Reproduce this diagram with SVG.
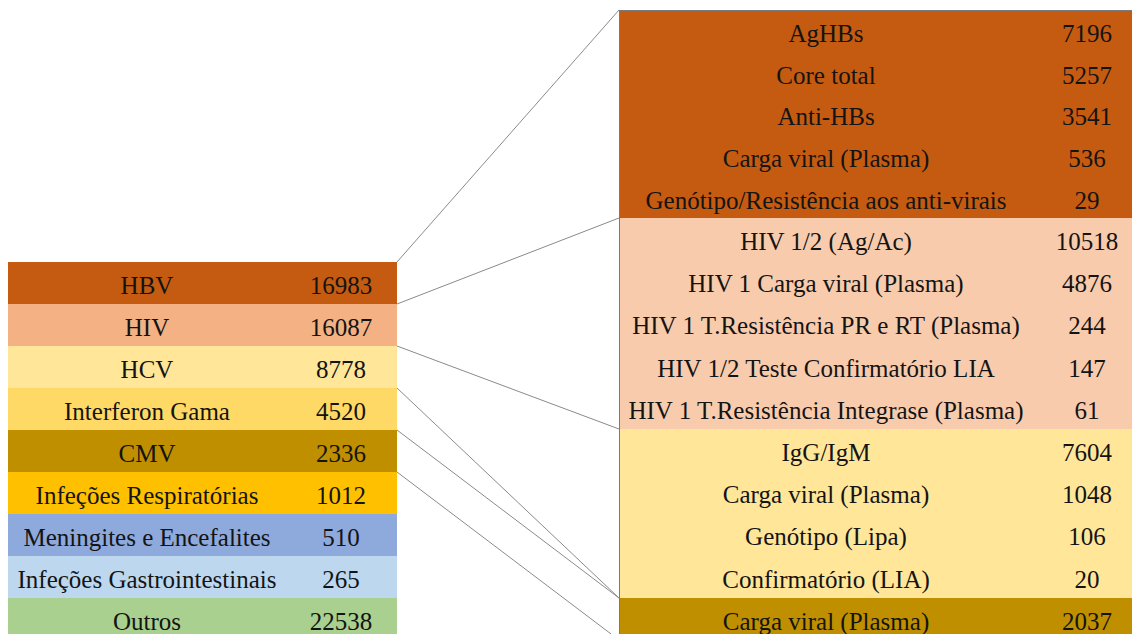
<svg xmlns="http://www.w3.org/2000/svg" width="1132" height="634" viewBox="0 0 1132 634">
<style>
text{font-family:"Liberation Serif","Times New Roman",serif;font-size:25px;fill:#141414;text-anchor:middle}
.con{stroke:#8a8a8a;stroke-width:1;fill:none}
</style>
<rect width="1132" height="634" fill="#ffffff"/>
<g id="left-table">
<g id="n-hbv"><rect x="8" y="262" width="389" height="42" fill="#C55A11"/><text x="147" y="293.5">HBV</text><text x="341" y="293.5">16983</text></g>
<g id="n-hiv"><rect x="8" y="304" width="389" height="42" fill="#F4B183"/><text x="147" y="335.5">HIV</text><text x="341" y="335.5">16087</text></g>
<g id="n-hcv"><rect x="8" y="346" width="389" height="42" fill="#FFE699"/><text x="147" y="377.5">HCV</text><text x="341" y="377.5">8778</text></g>
<g id="n-ifn"><rect x="8" y="388" width="389" height="42" fill="#FFD966"/><text x="147" y="419.5">Interferon Gama</text><text x="341" y="419.5">4520</text></g>
<g id="n-cmv"><rect x="8" y="430" width="389" height="42" fill="#BF8F00"/><text x="147" y="461.5">CMV</text><text x="341" y="461.5">2336</text></g>
<g id="n-resp"><rect x="8" y="472" width="389" height="42" fill="#FFC000"/><text x="147" y="503.5">Infeções Respiratórias</text><text x="341" y="503.5">1012</text></g>
<g id="n-men"><rect x="8" y="514" width="389" height="42" fill="#8EA9DB"/><text x="147" y="545.5">Meningites e Encefalites</text><text x="341" y="545.5">510</text></g>
<g id="n-gastro"><rect x="8" y="556" width="389" height="42" fill="#BDD7EE"/><text x="147" y="587.5">Infeções Gastrointestinais</text><text x="341" y="587.5">265</text></g>
<g id="n-outros"><rect x="8" y="598" width="389" height="42" fill="#A9D08E"/><text x="147" y="629.5">Outros</text><text x="341" y="629.5">22538</text></g>
</g>
<g id="right-table">
<g id="r-hbv">
<rect x="619" y="10" width="513" height="208" fill="#C55A11"/>
<text x="826" y="41.5">AgHBs</text><text x="1087" y="41.5">7196</text>
<text x="826" y="83.5">Core total</text><text x="1087" y="83.5">5257</text>
<text x="826" y="125">Anti-HBs</text><text x="1087" y="125">3541</text>
<text x="826" y="167">Carga viral (Plasma)</text><text x="1087" y="167">536</text>
<text x="826" y="208.5">Genótipo/Resistência aos anti-virais</text><text x="1087" y="208.5">29</text>
</g>
<g id="r-hiv">
<rect x="619" y="218" width="513" height="211" fill="#F8CBAD"/>
<text x="826" y="250">HIV 1/2 (Ag/Ac)</text><text x="1087" y="250">10518</text>
<text x="826" y="292">HIV 1 Carga viral (Plasma)</text><text x="1087" y="292">4876</text>
<text x="826" y="334">HIV 1 T.Resistência PR e RT (Plasma)</text><text x="1087" y="334">244</text>
<text x="826" y="376.5">HIV 1/2 Teste Confirmatório LIA</text><text x="1087" y="376.5">147</text>
<text x="826" y="418.5">HIV 1 T.Resistência Integrase (Plasma)</text><text x="1087" y="418.5">61</text>
</g>
<g id="r-hcv">
<rect x="619" y="429" width="513" height="169" fill="#FFE699"/>
<text x="826" y="461">IgG/IgM</text><text x="1087" y="461">7604</text>
<text x="826" y="503">Carga viral (Plasma)</text><text x="1087" y="503">1048</text>
<text x="826" y="545">Genótipo (Lipa)</text><text x="1087" y="545">106</text>
<text x="826" y="587.5">Confirmatório (LIA)</text><text x="1087" y="587.5">20</text>
</g>
<g id="r-cmv">
<rect x="619" y="598" width="513" height="42" fill="#BF8F00"/>
<text x="826" y="629.5">Carga viral (Plasma)</text><text x="1087" y="629.5">2037</text>
</g>
<path d="M1132 10.5H619.5V634" stroke="#7a7a7a" stroke-width="1" fill="none"/>
</g>
<g id="connectors">
<line class="con" x1="397" y1="262" x2="619" y2="10"/>
<line class="con" x1="397" y1="304" x2="619" y2="218"/>
<line class="con" x1="397" y1="346" x2="619" y2="429"/>
<line class="con" x1="397" y1="388" x2="619" y2="598"/>
<line class="con" x1="397" y1="430" x2="619" y2="598"/>
<line class="con" x1="397" y1="472" x2="619" y2="640"/>
</g>
</svg>
